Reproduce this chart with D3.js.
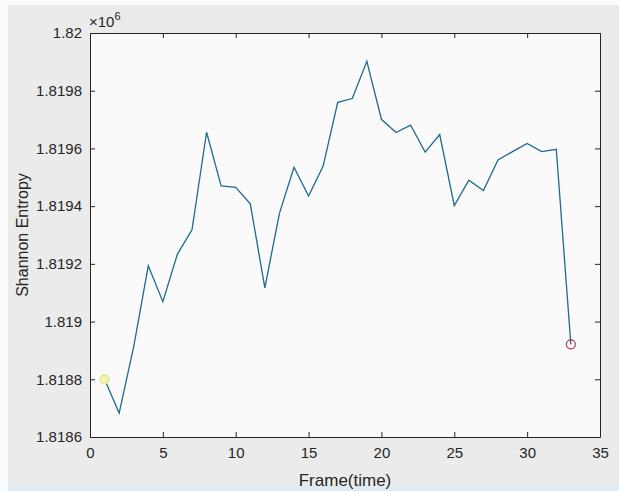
<!DOCTYPE html>
<html>
<head>
<meta charset="utf-8">
<script src="https://cdn.jsdelivr.net/npm/d3@7"></script>
<style>
  html, body { margin: 0; padding: 0; background: #ebebeb; }
  svg { display: block; font-family: "Liberation Sans", Arial, sans-serif; }
</style>
</head>
<body>
<svg id="chart" width="619" height="491"></svg>
<script>
// frame index and entropy values
const frames = d3.range(1, 34);
const entropy = [
  1.818800, 1.818683, 1.818913, 1.819193, 1.819069, 1.819234, 1.819318, 1.819656,
  1.819470, 1.819465, 1.819408, 1.819117, 1.819375, 1.819535, 1.819435, 1.819539,
  1.819760, 1.819773, 1.819902, 1.819701, 1.819655, 1.819681, 1.819587, 1.819648,
  1.819402, 1.819490, 1.819454, 1.819560, 1.819589, 1.819617, 1.819589, 1.819597,
  1.818921
];
const xTicks = [0, 5, 10, 15, 20, 25, 30, 35];
const yTicks = [1.8186, 1.8188, 1.819, 1.8192, 1.8194, 1.8196, 1.8198, 1.82];

const W = 619, H = 491;
const plotLeft = 90, plotRight = 600, plotTop = 33, plotBottom = 437;
const axisColor = "#262626";

const svg = d3.select("#chart");

// figure background: thin white border top/left, blue strip at the bottom
svg.append("rect").attr("width", W).attr("height", H).attr("fill", "#fbfbfb");
svg.append("rect").attr("x", 8).attr("y", 5).attr("width", W - 8).attr("height", H - 5).attr("fill", "#ebebeb");
svg.append("rect").attr("x", 8).attr("y", 486).attr("width", W - 8).attr("height", 5).attr("fill", "#dcebf5");

const x = d3.scaleLinear().domain([0, 35]).range([plotLeft, plotRight]);
const y = d3.scaleLinear().domain([1.8186, 1.82]).range([plotBottom, plotTop]);

// axes area
svg.append("rect")
  .attr("x", plotLeft).attr("y", plotTop)
  .attr("width", plotRight - plotLeft).attr("height", plotBottom - plotTop)
  .attr("fill", "#fafafa");

// ticks on all four sides, pointing in
const fmtY = d => d3.format(".5~f")(d);
const xb = svg.append("g").attr("transform", `translate(0,${plotBottom})`)
  .call(d3.axisBottom(x).tickValues(xTicks).tickSizeInner(-5).tickSizeOuter(0).tickPadding(10));
const xt = svg.append("g").attr("transform", `translate(0,${plotTop})`)
  .call(d3.axisTop(x).tickValues(xTicks).tickSizeInner(-5).tickSizeOuter(0).tickFormat(""));
const yl = svg.append("g").attr("transform", `translate(${plotLeft},0)`)
  .call(d3.axisLeft(y).tickValues(yTicks).tickSizeInner(-5).tickSizeOuter(0).tickPadding(8).tickFormat(fmtY));
const yr = svg.append("g").attr("transform", `translate(${plotRight},0)`)
  .call(d3.axisRight(y).tickValues(yTicks).tickSizeInner(-5).tickSizeOuter(0).tickFormat(""));

[xb, xt, yl, yr].forEach(g => {
  g.selectAll("path").attr("stroke", axisColor);
  g.selectAll("line").attr("stroke", axisColor);
  g.selectAll("text").attr("fill", axisColor).attr("font-size", 15)
    .attr("font-family", "Liberation Sans, Arial, sans-serif");
});

// exponent label
const expo = svg.append("text").attr("x", 89).attr("y", 27)
  .attr("fill", axisColor).attr("font-size", 15);
expo.append("tspan").text("\u00d710");
expo.append("tspan").attr("font-size", 11).attr("dy", -7).text("6");

// axis labels
svg.append("text")
  .attr("x", (plotLeft + plotRight) / 2).attr("y", 486)
  .attr("text-anchor", "middle").attr("fill", axisColor).attr("font-size", 17)
  .text("Frame(time)");

svg.append("text")
  .attr("transform", `translate(28,${(plotTop + plotBottom) / 2}) rotate(-90)`)
  .attr("text-anchor", "middle").attr("fill", axisColor).attr("font-size", 16)
  .text("Shannon Entropy");

// the series
const line = d3.line().x((d, i) => x(frames[i])).y(d => y(d));
svg.append("path")
  .datum(entropy)
  .attr("fill", "none")
  .attr("stroke", "#1f6a8e")
  .attr("stroke-width", 1.3)
  .attr("d", line);

// start and end markers
svg.append("circle")
  .attr("cx", x(frames[0])).attr("cy", y(entropy[0])).attr("r", 4.5)
  .attr("fill", "#f4f2b8").attr("stroke", "#e6e27a").attr("stroke-width", 1.2);
svg.append("circle")
  .attr("cx", x(frames[frames.length - 1])).attr("cy", y(entropy[entropy.length - 1])).attr("r", 4.5)
  .attr("fill", "none").attr("stroke", "#b4344a").attr("stroke-width", 1.2);
</script>
</body>
</html>
